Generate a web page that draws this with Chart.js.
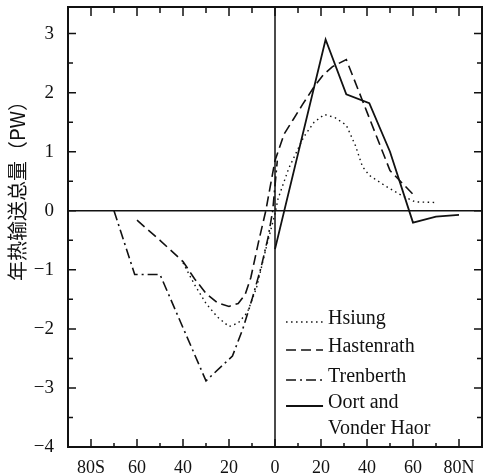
<!DOCTYPE html>
<html lang="zh">
<head>
  <meta charset="UTF-8">
  <title>年热输送总量</title>
  <script src="https://cdn.jsdelivr.net/npm/chart.js"></script>
  <style>
    body { margin: 0; padding: 0; background: #fff; }
    #wrap { width: 485px; height: 475px; }
  </style>
</head>
<body>
  <div id="wrap"><canvas id="heatChart" width="485" height="475"></canvas></div>

  <script>
    // latitude (negative = south), values in PW
    const hsiungLat = [-40, -35, -30, -25, -20, -16, -12, -8, -4, 0, 1.3, 6, 12.5, 17, 21.5, 26, 31, 35, 38, 41, 48, 55, 61, 70];
    const hsiungVal = [-0.88, -1.25, -1.57, -1.8, -1.96, -1.9, -1.72, -1.3, -0.65, -0.05, 0.2, 0.72, 1.25, 1.5, 1.63, 1.58, 1.45, 1.1, 0.75, 0.6, 0.42, 0.26, 0.15, 0.14];

    const hastenrathLat = [-60, -50, -40, -35, -30, -25, -20, -16, -13, -10.5, -7, -4, 0, 4, 8, 12, 17, 21, 25, 31, 40, 50, 60];
    const hastenrathVal = [-0.16, -0.5, -0.86, -1.15, -1.4, -1.56, -1.62, -1.57, -1.42, -1.13, -0.5, 0, 0.85, 1.3, 1.55, 1.8, 2.1, 2.3, 2.44, 2.56, 1.67, 0.68, 0.28];

    const trenberthLat = [-70, -61, -50, -30, -18.5, -14, -10, -6, -3, -1, 1];
    const trenberthVal = [0, -1.08, -1.08, -2.88, -2.46, -2.0, -1.5, -0.95, -0.45, 0, 0.85];

    const oortLat = [0, 22, 31, 41, 50, 60, 70, 80];
    const oortVal = [-0.65, 2.9, 1.97, 1.82, 1.0, -0.2, -0.1, -0.07];

    const xTicks = [-80, -60, -40, -20, 0, 20, 40, 60, 80];
    const xTickLabels = ['80S', '60', '40', '20', '0', '20', '40', '60', '80N'];
    const yTicks = [-4, -3, -2, -1, 0, 1, 2, 3];
    const seriesNames = ['Hsiung', 'Hastenrath', 'Trenberth', 'Oort and\nVonder Haor'];

    const ink = '#111';
    const serif = "'Liberation Serif', 'DejaVu Serif', serif";

    function pts(lat, val) {
      return lat.map((x, i) => ({ x: x, y: val[i] }));
    }

    // frame, inner ticks, zero lines, axis title, legend
    const framePlugin = {
      id: 'frame',
      afterDatasetsDraw(chart) {
        const ctx = chart.ctx;
        const a = chart.chartArea;
        const xs = chart.scales.x, ys = chart.scales.y;
        ctx.save();
        ctx.strokeStyle = ink;

        // zero lines
        ctx.lineWidth = 1.5;
        const y0 = ys.getPixelForValue(0), x0 = xs.getPixelForValue(0);
        ctx.beginPath();
        ctx.moveTo(a.left, y0); ctx.lineTo(a.right, y0);
        ctx.moveTo(x0, a.top); ctx.lineTo(x0, a.bottom);
        ctx.stroke();

        // ticks
        ctx.lineWidth = 1.5;
        ctx.beginPath();
        for (let v = -4; v <= 3.01; v += 0.5) {
          const p = ys.getPixelForValue(v);
          const len = Number.isInteger(v) ? 8 : 5;
          ctx.moveTo(a.left, p); ctx.lineTo(a.left + len, p);
          ctx.moveTo(a.right, p); ctx.lineTo(a.right - len, p);
        }
        for (let v = -80; v <= 80; v += 10) {
          const p = xs.getPixelForValue(v);
          const major = v % 20 === 0;
          ctx.moveTo(p, a.bottom); ctx.lineTo(p, a.bottom - (major ? 8 : 4));
          ctx.moveTo(p, a.top); ctx.lineTo(p, a.top + (major ? 9 : 6));
        }
        ctx.stroke();

        // frame
        ctx.lineWidth = 2;
        ctx.strokeRect(a.left, a.top, a.right - a.left, a.bottom - a.top);

        // y axis title
        ctx.fillStyle = ink;
        ctx.translate(17, 186);
        ctx.rotate(-Math.PI / 2);
        ctx.font = "20px 'Noto Sans CJK SC'";
        ctx.textAlign = 'center';
        ctx.textBaseline = 'middle';
        ctx.fillText('年热输送总量（PW）', 0, 0);
        ctx.setTransform(1, 0, 0, 1, 0, 0);

        // legend
        const lx = xs.getPixelForValue(4.8);
        const lw = 37;
        const rows = [319, 347, 377, 403];
        ctx.font = '20px ' + serif;
        ctx.textAlign = 'left';
        ctx.textBaseline = 'middle';
        chart.data.datasets.forEach((ds, i) => {
          const ry = rows[i];
          ctx.save();
          ctx.strokeStyle = ink;
          ctx.lineWidth = ds.borderWidth;
          ctx.setLineDash(ds.borderDash || []);
          ctx.beginPath();
          ctx.moveTo(lx, ry + 3); ctx.lineTo(lx + lw, ry + 3);
          ctx.stroke();
          ctx.restore();
          seriesNames[i].split('\n').forEach((line, j) => {
            ctx.fillText(line, lx + lw + 5, ry + j * 26);
          });
        });
        ctx.restore();
      }
    };

    const ctx = document.getElementById('heatChart').getContext('2d');
    new Chart(ctx, {
      type: 'line',
      data: {
        datasets: [
          { label: seriesNames[0], data: pts(hsiungLat, hsiungVal), borderColor: ink, borderWidth: 1.4, borderDash: [1.5, 3.5] },
          { label: seriesNames[1], data: pts(hastenrathLat, hastenrathVal), borderColor: ink, borderWidth: 1.6, borderDash: [10, 5] },
          { label: seriesNames[2], data: pts(trenberthLat, trenberthVal), borderColor: ink, borderWidth: 1.6, borderDash: [10, 4, 2, 4] },
          { label: seriesNames[3], data: pts(oortLat, oortVal), borderColor: ink, borderWidth: 1.8 }
        ]
      },
      options: {
        responsive: false,
        animation: false,
        events: [],
        elements: { point: { radius: 0 }, line: { tension: 0, fill: false } },
        layout: { padding: { top: 7, right: 3, left: 0, bottom: 0 } },
        plugins: { legend: { display: false }, tooltip: { enabled: false } },
        scales: {
          x: {
            type: 'linear',
            min: -90,
            max: 90,
            afterBuildTicks: s => { s.ticks = xTicks.map(v => ({ value: v })); },
            afterFit: s => { s.height = 28; s.paddingLeft = 0; s.paddingRight = 0; },
            grid: { display: false },
            border: { display: false },
            ticks: {
              color: ink,
              padding: 2,
              maxRotation: 0,
              autoSkip: false,
              font: { family: serif, size: 18 },
              callback: v => xTickLabels[xTicks.indexOf(v)]
            }
          },
          y: {
            min: -4,
            max: 3.45,
            afterBuildTicks: s => { s.ticks = yTicks.map(v => ({ value: v })); },
            afterFit: s => { s.width = 68; s.paddingTop = 0; s.paddingBottom = 0; },
            grid: { display: false },
            border: { display: false },
            ticks: {
              color: ink,
              padding: 6,
              font: { family: serif, size: 19 },
              callback: v => v < 0 ? '−' + Math.abs(v) : String(v)
            }
          }
        }
      },
      plugins: [framePlugin]
    });
  </script>
</body>
</html>
